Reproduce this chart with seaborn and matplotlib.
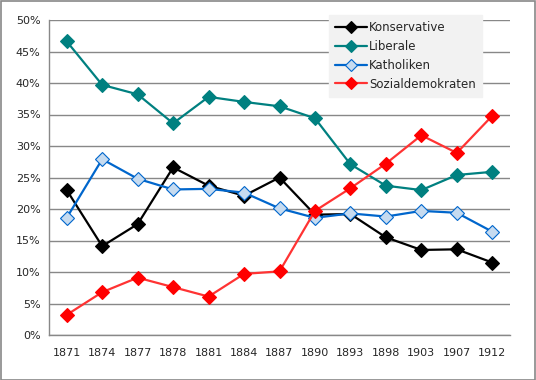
import matplotlib
matplotlib.use("Agg")
import matplotlib.pyplot as plt
import matplotlib.patches as mpatches
import numpy as np
import pandas as pd
import seaborn as sns

years = ["1871", "1874", "1877", "1878", "1881", "1884", "1887",
         "1890", "1893", "1898", "1903", "1907", "1912"]
konservative = [23.0, 14.1, 17.6, 26.6, 23.7, 22.1, 25.0, 19.1, 19.2, 15.5, 13.5, 13.6, 11.5]
liberale = [46.6, 39.7, 38.2, 33.6, 37.8, 37.0, 36.3, 34.4, 27.1, 23.7, 23.0, 25.4, 25.9]
katholiken = [18.6, 27.9, 24.8, 23.1, 23.2, 22.6, 20.1, 18.6, 19.3, 18.8, 19.7, 19.4, 16.4]
sozialdemokraten = [3.2, 6.8, 9.1, 7.6, 6.1, 9.7, 10.1, 19.7, 23.3, 27.2, 31.7, 28.9, 34.8]

series = {
    "Konservative": konservative,
    "Liberale": liberale,
    "Katholiken": katholiken,
    "Sozialdemokraten": sozialdemokraten,
}
styles = {
    "Konservative": dict(color="#000000", mfc="#000000", mec="#000000"),
    "Liberale": dict(color="#008080", mfc="#008080", mec="#008080"),
    "Katholiken": dict(color="#0066CC", mfc="#C6DBF0", mec="#0066CC"),
    "Sozialdemokraten": dict(color="#FF3333", mfc="#FF0000", mec="#FF0000"),
}

sns.set_style("white")
plt.rcParams["font.family"] = ["DejaVu Sans"]

fig = plt.figure(figsize=(5.36, 3.8), dpi=100)
ax = fig.add_axes([49 / 536, 1 - 335 / 380, (510 - 49) / 536, (335 - 20) / 380])

pos = np.arange(len(years))
for name, vals in series.items():
    st = styles[name]
    df = pd.DataFrame({"x": pos, "y": vals})
    sns.lineplot(data=df, x="x", y="y", ax=ax, color=st["color"], linewidth=1.6,
                 marker="D", markersize=7, markerfacecolor=st["mfc"],
                 markeredgecolor=st["mec"], markeredgewidth=0.8, label=name)

ax.set_xlim(-0.5, len(years) - 0.5)
ax.set_ylim(0, 50)
ax.set_yticks(range(0, 51, 5))
ax.set_yticklabels([f"{v}%" for v in range(0, 51, 5)], fontsize=8)
ax.set_xticks(pos)
ax.set_xticklabels(years, fontsize=8)
ax.set_xticks(np.arange(-0.5, len(years), 1), minor=True)
ax.tick_params(axis="x", which="major", length=0, pad=9)
ax.tick_params(axis="x", which="minor", length=4, color="#888888", width=1)
ax.tick_params(axis="y", length=4, color="#888888", width=1, pad=2)
ax.set_xlabel("")
ax.set_ylabel("")
ax.yaxis.grid(True, color="#888888", linewidth=1)
ax.set_axisbelow(True)
for s in ["top", "right"]:
    ax.spines[s].set_visible(False)
for s in ["left", "bottom"]:
    ax.spines[s].set_color("#888888")
    ax.spines[s].set_linewidth(1)

leg = ax.legend(loc="upper left", bbox_to_anchor=((329 - 49) / 461, 1 + 5 / 315),
                borderaxespad=0, frameon=True, fancybox=False, fontsize=8.5,
                handlelength=2.7, markerscale=0.85, borderpad=0.5,
                labelspacing=0.5, handletextpad=0.2)
leg.get_frame().set_facecolor("#F2F2F2")
leg.get_frame().set_edgecolor("#F2F2F2")
leg.get_frame().set_alpha(1)

fig.patches.append(mpatches.Rectangle((0.5 / 536, 0.5 / 380), 534.5 / 536, 378.5 / 380,
                                      transform=fig.transFigure, fill=False,
                                      edgecolor="#888888", linewidth=1.2))

fig.savefig("out.png", dpi=100)
